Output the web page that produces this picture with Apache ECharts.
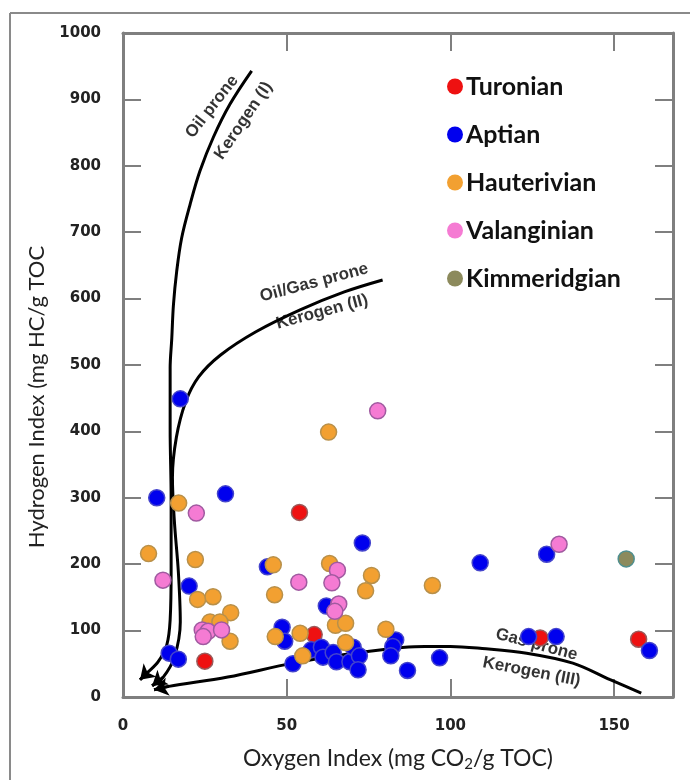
<!DOCTYPE html>
<html><head><meta charset="utf-8">
<script src="https://cdn.jsdelivr.net/npm/echarts@6/dist/echarts.min.js"></script>
<style>html,body{margin:0;padding:0;background:#fff}#c{width:690px;height:780px}</style>
</head><body><div id="c"></div>
<script>
// ---------- data ----------
const formationNames = ['Turonian', 'Aptian', 'Hauterivian', 'Valanginian', 'Kimmeridgian'];

const turonian = [[53.9,278],[58.4,94],[25,54],[127.4,89],[157.5,87]];
const aptian = [[17.5,449],[10.3,300],[31.3,306],[73.1,232],[109.1,202],[129.4,215],[44.1,196],
  [20.2,167],[62.1,137],[48.6,105],[49.4,84],[14.1,66],[16.9,57],[51.9,50],[57.5,71],[60.6,75],
  [61.1,60],[64.2,67],[65.2,53],[69.3,53],[70.3,75],[72.2,62],[71.8,41],[83.3,86],[82.4,76],
  [81.8,62],[86.9,40],[96.7,59],[123.9,91],[132.3,91],[160.8,70]];
const hauterivian = [[62.8,399],[17.0,292],[7.8,216],[22.1,207],[45.9,199],[63.1,201],[75.9,183],
  [94.5,168],[74.1,160],[46.3,154],[22.8,147],[27.5,151],[32.9,127],[26.6,113],[29.6,113],
  [64.9,108],[68.0,111],[80.3,102],[46.5,91],[54.1,96],[68.0,82],[32.7,84],[54.9,62]];
const valanginian = [[77.8,431],[22.4,277],[133.2,230],[65.5,191],[63.8,172],[53.7,173],[12.2,176],
  [65.9,140],[64.7,129],[24.2,101],[26.0,99],[30.1,101],[24.5,91]];
const kimmeridgian = [[153.7,208]];

// kerogen evolution paths (schematic)
const kerogenI = [[39.3,943],[32.7,893],[27.6,843],[23.5,792],[20.5,742],[17.9,691],[16.4,641],
  [15.4,590],[14.9,540],[14.4,495],[14.4,404],[14.7,298],[14.7,192],[14.4,116],[13.4,79],
  [10.7,53],[7.3,36],[5.2,26]];
const kerogenII = [[79.3,628],[67.6,610],[54.1,583],[40.6,550],[29.8,515],[23.1,482],[19.1,444],
  [16.3,391],[15.1,331],[15.7,264],[16.9,189],[17.5,113],[15.7,60],[12.3,30],[8.9,17]];
const kerogenIII = [[158.3,6],[148.8,26],[137.4,51],[123.3,66],[109.7,73],[100,76],[92.2,76],
  [73.8,68],[52,51],[32,30],[14,16],[9.5,11]];

const annoTexts = ['Oil prone', 'Kerogen (I)', 'Oil/Gas prone', 'Kerogen (II)', 'Gas prone', 'Kerogen (III)'];
const annoPos = [[27.2,889],[36.8,868],[58.4,624],[60.8,580],[126.3,79],[124.8,38]];
const annoAngle = [52, 56, 15, 15, -15, -11];

const xTitle = 'Oxygen Index (mg CO{sub|2}/g TOC)';
const yTitle = 'Hydrogen Index (mg HC/g TOC';
const X_MIN = 0, X_MAX = 168, X_STEP = 50;
const Y_MIN = 0, Y_MAX = 1000, Y_STEP = 100;

// ---------- styles ----------
const fills = ['#ee1111', '#0000ee', '#f2a031', '#f57bd3', '#8c8a5c'];
const borders = ['#9a5a5a', '#4444cc', '#b8904a', '#a05aa0', '#4f8f8f'];
const AX = '#7f7f7f';

const chart = echarts.init(document.getElementById('c'), null, {renderer: 'canvas'});

const dataSets = [turonian, aptian, hauterivian, valanginian, kimmeridgian];
const scatterSeries = dataSets.map((d, i) => ({
  name: formationNames[i], type: 'scatter', data: d, symbol: 'circle', symbolSize: 16, z: 5,
  itemStyle: {color: fills[i], borderColor: borders[i], borderWidth: 1.5, opacity: 1}
}));

function curve(d) {
  return {type: 'line', data: d, smooth: 0.35, showSymbol: false, silent: true, z: 3,
    lineStyle: {color: '#000', width: 3}, legendHoverLink: false};
}
function arrow(d) {
  const n = d.length;
  return {type: 'lines', coordinateSystem: 'cartesian2d', silent: true, z: 3,
    symbol: ['none', 'arrow'], symbolSize: 14,
    lineStyle: {color: '#000', width: 3, opacity: 1},
    data: [{coords: [d[n - 2], d[n - 1]]}]};
}

const annoSeries = {
  type: 'scatter', silent: true, symbolSize: 1, z: 4, itemStyle: {color: 'rgba(0,0,0,0)'},
  data: annoPos.map((p, i) => ({
    value: p,
    label: {show: true, position: 'inside', formatter: annoTexts[i], rotate: annoAngle[i],
      fontFamily: 'Liberation Sans', fontWeight: 'bold', fontSize: 17, color: '#000'}
  }))
};

const axisCommon = {
  axisLine: {show: true, onZero: false, lineStyle: {color: AX, width: 3}},
  axisTick: {show: true, inside: true, length: 18, lineStyle: {color: AX, width: 2}},
  splitLine: {show: false}
};
const tickFont = {fontFamily: 'DejaVu Sans', fontWeight: 'bold', fontSize: 15, color: '#222',
  formatter: v => String(v)};

chart.setOption({
  animation: false,
  backgroundColor: '#fff',
  grid: {left: 123, right: 17, top: 33, bottom: 83, containLabel: false},
  legend: {
    data: formationNames, orient: 'vertical', left: 442, top: 69,
    itemWidth: 16, itemHeight: 16, itemGap: 23, icon: 'circle',
    textStyle: {fontFamily: 'Lato', fontWeight: 'bold', fontSize: 25, color: '#111', lineHeight: 25, padding: [0,0,0,-2]},
    itemStyle: {borderWidth: 0}
  },
  xAxis: [
    Object.assign({type: 'value', position: 'bottom', min: X_MIN, max: X_MAX, interval: X_STEP,
      axisLabel: Object.assign({margin: 22, showMaxLabel: false}, tickFont),
      name: xTitle, nameLocation: 'middle', nameGap: 48,
      nameTextStyle: {fontFamily: 'Lato', fontSize: 23, color: '#222',
        rich: {sub: {fontFamily: 'Lato', fontSize: 15, color: '#222', padding: [12, 0, 0, 0]}}}
    }, axisCommon),
    Object.assign({type: 'value', position: 'top', min: X_MIN, max: X_MAX, interval: X_STEP,
      axisLabel: {show: false}}, axisCommon)
  ],
  yAxis: [
    Object.assign({type: 'value', position: 'left', min: Y_MIN, max: Y_MAX, interval: Y_STEP,
      axisLabel: Object.assign({margin: 22}, tickFont),
      name: yTitle, nameLocation: 'middle', nameGap: 72,
      nameTextStyle: {fontFamily: 'Lato', fontSize: 22, color: '#222', padding: [0, 64, 0, 0]}
    }, axisCommon),
    Object.assign({type: 'value', position: 'right', min: Y_MIN, max: Y_MAX, interval: Y_STEP,
      axisLabel: {show: false}}, axisCommon)
  ],
  graphic: [
    {type: 'line', shape: {x1: 10, y1: 13, x2: 690, y2: 13}, style: {stroke: '#8a8a8a', lineWidth: 2}, silent: true},
    {type: 'line', shape: {x1: 10, y1: 13, x2: 10, y2: 780}, style: {stroke: '#8a8a8a', lineWidth: 2}, silent: true}
  ],
  series: [
    curve(kerogenI), curve(kerogenII), curve(kerogenIII),
    arrow(kerogenI), arrow(kerogenII), arrow(kerogenIII),
    annoSeries
  ].concat(scatterSeries)
});
</script></body></html>
